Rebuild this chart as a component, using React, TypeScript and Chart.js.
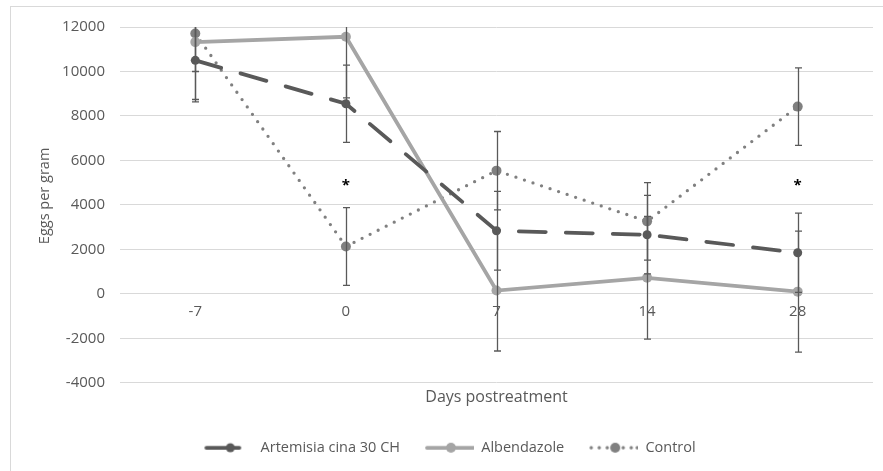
import React, { useEffect, useRef } from "react";
import { Chart, registerables } from "chart.js";

Chart.register(...registerables);

const days = ["-7", "0", "7", "14", "28"];
const artemisia = [10500, 8550, 2840, 2660, 1850];
const artemisiaSd = [1870, 1740, 1770, 1765, 1780];
const albendazole = [11320, 11560, 150, 720, 100];
const albendazoleSd = [2580, 2750, 2720, 2760, 2720];
const control = [11710, 2130, 5540, 3260, 8420];
const controlSd = [1710, 1750, 1760, 1740, 1740];
const asteriskDays = ["0", "28"];
const asteriskLevel = [5000, 5000];
const yTicks = [-4000, -2000, 0, 2000, 4000, 6000, 8000, 10000, 12000];

const DARK = "#595959";
const LIGHT = "#a5a5a5";
const MID = "#808080";
const FONT = "'Open Sans', sans-serif";
const ICON_W = 52;

function makeIcon(kind: string): HTMLCanvasElement {
  const c = document.createElement("canvas");
  c.width = ICON_W;
  c.height = 14;
  const g = c.getContext("2d")!;
  g.lineCap = "round";
  if (kind === "art") {
    g.strokeStyle = DARK;
    g.lineWidth = 3.75;
    g.beginPath();
    g.moveTo(5, 7);
    g.lineTo(38, 7);
    g.stroke();
    g.fillStyle = DARK;
    g.beginPath();
    g.arc(29, 7, 4.5, 0, Math.PI * 2);
    g.fill();
  } else if (kind === "alb") {
    g.strokeStyle = LIGHT;
    g.lineWidth = 3.75;
    g.beginPath();
    g.moveTo(5, 7);
    g.lineTo(51, 7);
    g.stroke();
    g.fillStyle = LIGHT;
    g.beginPath();
    g.arc(29, 7, 5, 0, Math.PI * 2);
    g.fill();
  } else {
    g.fillStyle = MID;
    [5, 13, 21, 37, 45, 51].forEach((x) => {
      g.beginPath();
      g.arc(x, 7, 1.7, 0, Math.PI * 2);
      g.fill();
    });
    g.beginPath();
    g.arc(29, 7, 5, 0, Math.PI * 2);
    g.fill();
  }
  return c;
}

const series = [
  { values: artemisia, sd: artemisiaSd },
  { values: albendazole, sd: albendazoleSd },
  { values: control, sd: controlSd },
];

const errorBarPlugin = {
  id: "errorBars",
  afterLayout(chart: any) {
    const lg = chart.legend;
    if (lg) {
      lg.left += 7;
      lg.right += 7;
    }
  },
  afterDatasetsDraw(chart: any) {
    const { ctx, chartArea, scales } = chart;
    const xs = scales.x;
    const ys = scales.y;
    ctx.save();
    ctx.beginPath();
    ctx.rect(chartArea.left, chartArea.top, chartArea.right - chartArea.left, chartArea.bottom - chartArea.top);
    ctx.clip();
    ctx.strokeStyle = DARK;
    ctx.lineWidth = 1.3;
    series.forEach((s) => {
      s.values.forEach((v, i) => {
        const px = Math.round(xs.getPixelForValue(i)) + 0.5;
        const top = ys.getPixelForValue(v + s.sd[i]);
        const bot = ys.getPixelForValue(v - s.sd[i]);
        ctx.beginPath();
        ctx.moveTo(px, top);
        ctx.lineTo(px, bot);
        ctx.moveTo(px - 3.5, top);
        ctx.lineTo(px + 3.5, top);
        ctx.moveTo(px - 3.5, bot);
        ctx.lineTo(px + 3.5, bot);
        ctx.stroke();
      });
    });
    ctx.fillStyle = "#000";
    ctx.font = `bold 15px ${FONT}`;
    ctx.textAlign = "center";
    ctx.textBaseline = "middle";
    asteriskDays.forEach((d, i) => {
      const px = xs.getPixelForValue(days.indexOf(d));
      const py = ys.getPixelForValue(asteriskLevel[i]);
      ctx.fillText("*", px, py + 3);
    });
    ctx.restore();
    // y-axis title
    ctx.save();
    ctx.translate(45, (chartArea.top + chartArea.bottom) / 2 - 9);
    ctx.rotate(-Math.PI / 2);
    ctx.fillStyle = DARK;
    ctx.font = `14.5px ${FONT}`;
    ctx.textAlign = "center";
    ctx.textBaseline = "middle";
    ctx.fillText("Eggs per gram", 0, 0);
    ctx.restore();
  },
};

export default function App() {
  const ref = useRef<HTMLCanvasElement>(null);
  useEffect(() => {
    if (!ref.current) return;
    const icons = [makeIcon("art"), makeIcon("alb"), makeIcon("ctl")];
    const chart = new Chart(ref.current, {
      type: "line",
      data: {
        labels: days,
        datasets: [
          {
            label: "Artemisia cina 30 CH",
            data: artemisia,
            borderColor: DARK,
            backgroundColor: DARK,
            borderWidth: 3.75,
            borderDash: [27, 20],
            borderCapStyle: "round",
            pointRadius: 4.5,
            pointBackgroundColor: DARK,
            pointBorderWidth: 0,
            tension: 0,
          },
          {
            label: "Albendazole",
            data: albendazole,
            borderColor: LIGHT,
            backgroundColor: LIGHT,
            borderWidth: 3.75,
            pointRadius: 5,
            pointBackgroundColor: LIGHT,
            pointBorderWidth: 0,
            tension: 0,
          },
          {
            label: "Control",
            data: control,
            borderColor: MID,
            backgroundColor: MID,
            borderWidth: 3.3,
            borderDash: [0, 9],
            borderCapStyle: "round",
            pointRadius: 5,
            pointBackgroundColor: MID,
            pointBorderWidth: 0,
            tension: 0,
          },
        ],
      },
      options: {
        responsive: false,
        animation: false,
        devicePixelRatio: 1,
        layout: { padding: { left: 10, right: 10, top: 27, bottom: 6 } },
        plugins: {
          tooltip: { enabled: false },
          legend: {
            position: "bottom",
            labels: {
              usePointStyle: true,
              pointStyleWidth: ICON_W,
              padding: 22,
              color: DARK,
              font: { family: FONT, size: 14.5 },
              generateLabels: (ch: any) =>
                ch.data.datasets.map((ds: any, i: number) => ({
                  text: ds.label,
                  pointStyle: icons[i],
                  fillStyle: ds.borderColor,
                  strokeStyle: ds.borderColor,
                  lineWidth: 0,
                  hidden: false,
                  datasetIndex: i,
                  fontColor: DARK,
                })),
            },
          },
        },
        scales: {
          x: {
            type: "category",
            position: { y: 0 } as any,
            offset: true,
            grid: { display: false, drawTicks: false },
            border: { display: false },
            ticks: { color: DARK, font: { family: FONT, size: 15 }, padding: 9 },
          },
          xt: {
            type: "category",
            labels: days,
            position: "bottom",
            offset: true,
            grid: { display: false, drawTicks: false },
            border: { display: false },
            ticks: { display: false },
            title: {
              display: true,
              text: "Days postreatment",
              color: DARK,
              font: { family: FONT, size: 16 },
              padding: { top: 5, bottom: 11.5 },
            },
          },
          y: {
            min: -4000,
            max: 12000,
            afterBuildTicks: (s: any) => {
              s.ticks = yTicks.map((v) => ({ value: v }));
            },
            afterFit: (s: any) => {
              s.width = 110;
            },
            grid: { color: "#d9d9d9", lineWidth: 1, drawTicks: false },
            border: { display: false },
            ticks: {
              color: DARK,
              font: { family: FONT, size: 15 },
              padding: 15,
              callback: (v: any) => String(v),
            },
          },
        },
      },
      plugins: [errorBarPlugin],
    });
    return () => chart.destroy();
  }, []);

  return (
    <div style={{ position: "fixed", left: 0, top: 0, width: 883, height: 471, background: "#fff", overflow: "hidden" }}>
      <div
        style={{
          position: "absolute",
          left: 10,
          top: 6,
          width: 900,
          height: 500,
          border: "1px solid #d9d9d9",
          boxSizing: "border-box",
        }}
      />
      <canvas ref={ref} width={883} height={471} style={{ position: "absolute", left: 0, top: 0, width: 883, height: 471 }} />
    </div>
  );
}
